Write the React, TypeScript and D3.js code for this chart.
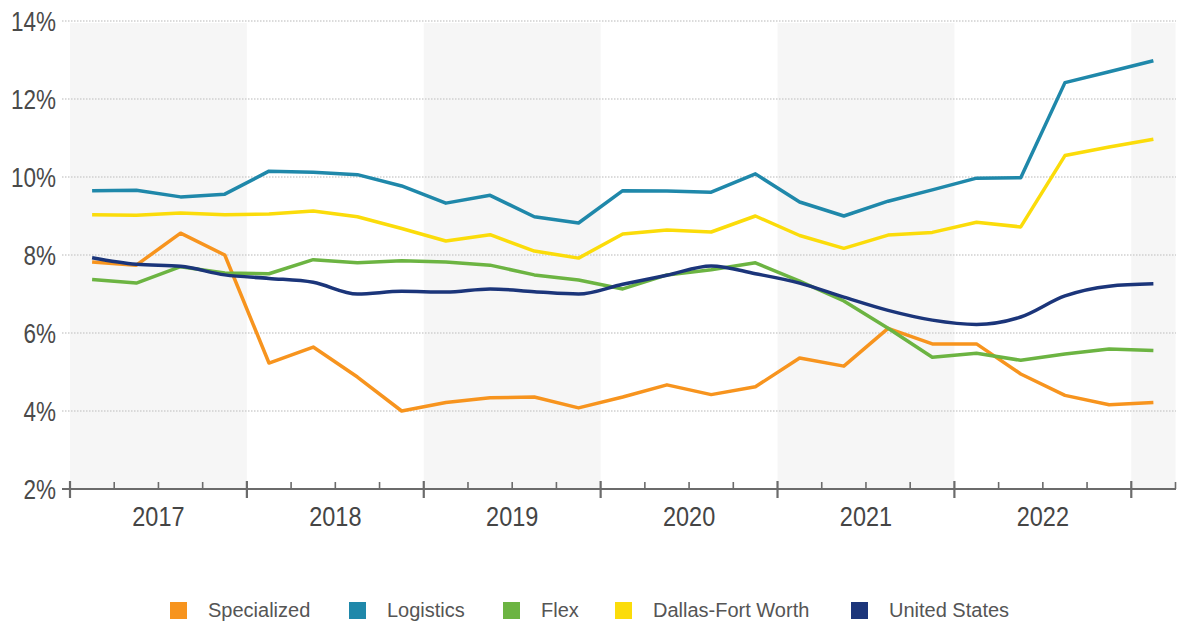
import * as React from 'react'
import * as d3 from 'd3'

// quarterly vacancy, 2017 Q1 .. 2023 Q1
const years = ['2017', '2018', '2019', '2020', '2021', '2022', '2023']
const yTicks = [2, 4, 6, 8, 10, 12, 14]

const specialized = [7.82, 7.74, 8.56, 8.0, 5.23, 5.64, 4.87, 4.0, 4.22, 4.34, 4.36, 4.08, 4.36, 4.67, 4.42, 4.62, 5.36, 5.15, 6.12, 5.72, 5.72, 4.95, 4.4, 4.16, 4.22]
const logistics = [9.65, 9.66, 9.49, 9.56, 10.15, 10.12, 10.06, 9.77, 9.33, 9.53, 8.98, 8.82, 9.65, 9.64, 9.61, 10.08, 9.36, 9.0, 9.38, 9.67, 9.97, 9.98, 12.42, 12.7, 12.98]
const flex = [7.37, 7.28, 7.7, 7.54, 7.52, 7.88, 7.8, 7.85, 7.82, 7.74, 7.49, 7.36, 7.13, 7.49, 7.62, 7.8, 7.33, 6.82, 6.12, 5.38, 5.48, 5.3, 5.46, 5.59, 5.55]
const dfw = [9.03, 9.02, 9.08, 9.03, 9.05, 9.13, 8.98, 8.68, 8.36, 8.52, 8.1, 7.92, 8.54, 8.64, 8.59, 9.0, 8.5, 8.17, 8.51, 8.58, 8.84, 8.72, 10.55, 10.77, 10.97]
const us = [7.93, 7.76, 7.71, 7.49, 7.4, 7.3, 7.0, 7.07, 7.05, 7.13, 7.06, 7.0, 7.25, 7.48, 7.72, 7.52, 7.28, 6.92, 6.58, 6.33, 6.22, 6.41, 6.95, 7.2, 7.26]

const series = [
  { name: 'Specialized', color: '#f7941e', values: specialized },
  { name: 'Logistics', color: '#1f88aa', values: logistics },
  { name: 'Flex', color: '#6cb442', values: flex },
  { name: 'Dallas-Fort Worth', color: '#fbdc0a', values: dfw },
  { name: 'United States', color: '#1b357a', values: us },
]

const legendX = [170, 349, 503, 615, 851]

const App = () => {
  const width = 1182
  const height = 621
  const nQ = specialized.length

  const x = d3.scaleLinear().domain([0, nQ]).range([70, 1175.5])
  const y = d3.scaleLinear().domain([2, 14]).range([489, 21])

  const line = d3.line<number>()
    .x((d, i) => x(i + 0.5))
    .y(d => y(d))

  const smooth = d3.line<number>()
    .x((d, i) => x(i + 0.5))
    .y(d => y(d))
    .curve(d3.curveMonotoneX)

  const font = '"Liberation Sans", Arial, sans-serif'
  const axisY = y(2)

  return (
    <svg width={width} height={height} style={{ position: 'absolute', left: 0, top: 0 }} fontFamily={font}>
      <rect width={width} height={height} fill="#fff" />
      {years.map((yr, k) => {
        const x0 = x(k * 4)
        const x1 = x(Math.min(k * 4 + 4, nQ))
        return k % 2 === 0 ? (
          <rect key={yr} x={x0} y={23} width={x1 - x0} height={axisY - 23} fill="#f6f6f6" />
        ) : null
      })}
      {yTicks.map(t => (
        <g key={t}>
          {t > 2 && (
            <line x1={62} x2={1176} y1={y(t)} y2={y(t)} stroke="#cfcfcf" strokeWidth={1.6} strokeDasharray="1.5,1.5" />
          )}
          <g transform={`translate(56, ${y(t)}) scale(1, 1.22)`}>
            <text dy="0.36em" textAnchor="end" fontSize={22.5} fill="#4a4a4a">{t}%</text>
          </g>
        </g>
      ))}
      {series.map(s => (
        <path key={s.name} d={(s.name === 'United States' ? smooth : line)(s.values) || ''}
          fill="none" stroke={s.color} strokeWidth={3.5} strokeLinejoin="round" />
      ))}
      <line x1={62} x2={1176} y1={axisY} y2={axisY} stroke="#6b6b6b" strokeWidth={2} />
      {d3.range(0, nQ + 1).map(q => (
        q % 4 === 0
          ? <line key={q} x1={x(q)} x2={x(q)} y1={axisY - 8} y2={axisY + 9} stroke="#6b6b6b" strokeWidth={2.2} />
          : <line key={q} x1={x(q)} x2={x(q)} y1={axisY - 7} y2={axisY} stroke="#6b6b6b" strokeWidth={1.6} />
      ))}
      {years.slice(0, 6).map((yr, k) => (
        <g key={yr} transform={`translate(${x(k * 4 + 2)}, 526) scale(1, 1.18)`}>
          <text textAnchor="middle" fontSize={23.5} fill="#454545">{yr}</text>
        </g>
      ))}
      {series.map((s, i) => (
        <g key={s.name} transform={`translate(${legendX[i]}, 602)`}>
          <rect width={17} height={17} fill={s.color} />
          <text x={38} y={15} fontSize={20} fill="#555">{s.name}</text>
        </g>
      ))}
    </svg>
  )
}

export default App
